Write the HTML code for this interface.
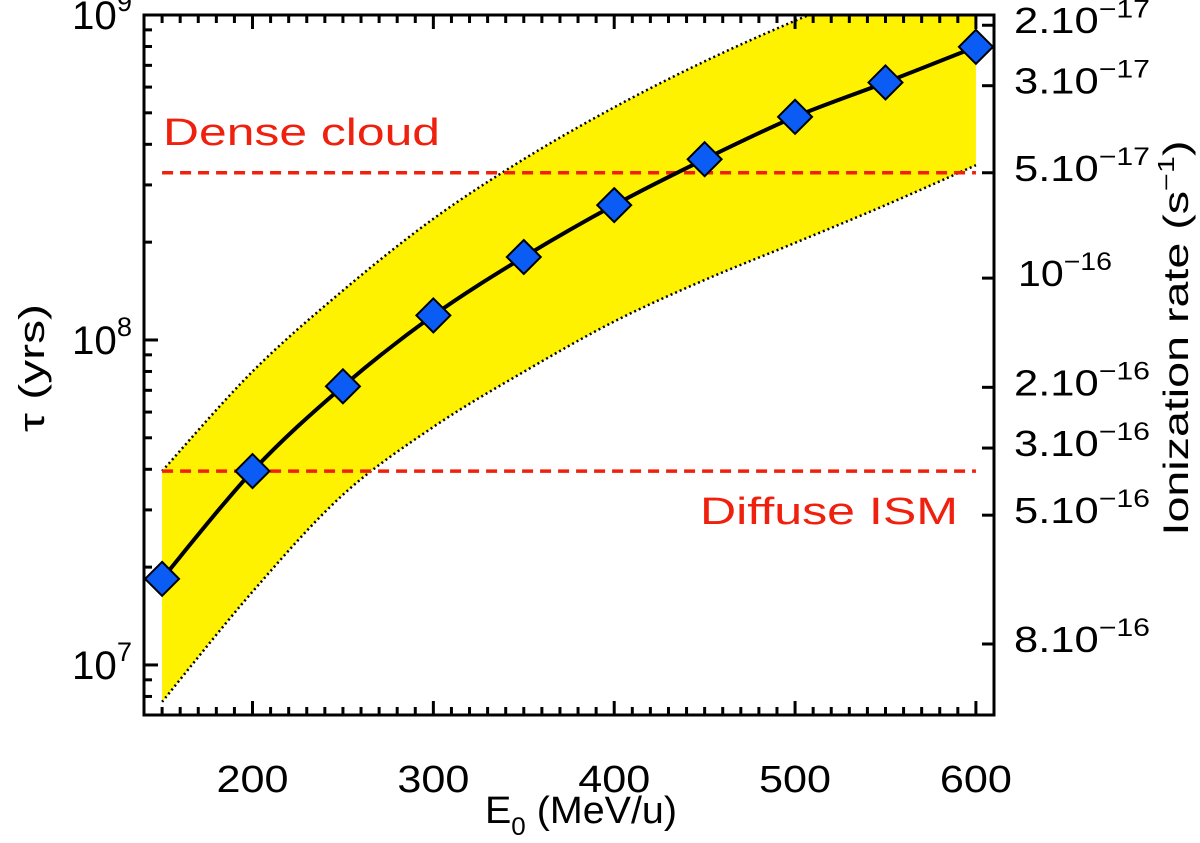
<!DOCTYPE html>
<html><head><meta charset="utf-8"><style>
body{margin:0;background:#fff;}
svg{display:block;font-family:"Liberation Sans","DejaVu Sans",sans-serif;}
</style></head><body>
<svg id="chart" width="1200" height="843" viewBox="0 0 1200 843">
<defs><clipPath id="clip"><rect x="144" y="15" width="850" height="700"/></clipPath></defs>
<g id="band" clip-path="url(#clip)"></g>
<g id="refs"></g>
<g id="series"></g>
<g id="axes"></g>
<text x="163" y="145" font-size="38" fill="#f0200e" textLength="277" lengthAdjust="spacingAndGlyphs">Dense  cloud</text>
<text x="700" y="524" font-size="38" fill="#f0200e" textLength="258" lengthAdjust="spacingAndGlyphs">Diffuse  ISM</text>
<text x="485" y="823" font-size="38" textLength="192" lengthAdjust="spacingAndGlyphs">E<tspan font-size="25" dy="12">0</tspan><tspan dy="-12"> (MeV/u)</tspan></text>
<text transform="translate(44,368) rotate(-90)" font-size="36" text-anchor="middle" textLength="128" lengthAdjust="spacingAndGlyphs">τ (yrs)</text>
<text transform="translate(1188,338) rotate(-90)" font-size="35" text-anchor="middle" textLength="395" lengthAdjust="spacingAndGlyphs">Ionization rate (s<tspan font-size="23" dy="-14">−1</tspan><tspan dy="14">)</tspan></text>
</svg>
<script>
const energies=[150,200,250,300,350,400,450,500,550,600];
const tau=[1.84e7,3.95e7,7.2e7,1.19e8,1.8e8,2.6e8,3.6e8,4.86e8,6.2e8,7.98e8];
const tauUpper=[3.95e7,8.0e7,1.42e8,2.36e8,3.6e8,5.2e8,7.2e8,9.6e8,1.24e9,1.6e9];
const tauLower=[7.7e6,1.68e7,3.34e7,5.4e7,7.98e7,1.14e8,1.53e8,1.99e8,2.6e8,3.45e8];
const denseCloud=3.27e8;
const diffuseISM=3.95e7;
const xTicks=[200,300,400,500,600];
const yDecades=[7,8,9];
const rateLabels=["2","3","5","10","2","3","5","8"];
const rateExps=["-17","-17","-17","-16","-16","-16","-16","-16"];
const rateTauPos=[9.3e8,6.06e8,3.27e8,1.55e8,7.15e7,4.65e7,2.89e7,1.16e7];

const NS="http://www.w3.org/2000/svg";
const X0=144,X1=994,Y0=15,Y1=715;
const xMin=140,xMax=610;
const yTop=9.0,yBot=6.846;
const x=v=>X0+(v-xMin)/(xMax-xMin)*(X1-X0);
const y=v=>Y0+(yTop-Math.log10(v))/(yTop-yBot)*(Y1-Y0);
function mk(tag,attrs,parent){const e=document.createElementNS(NS,tag);for(const k in attrs)e.setAttribute(k,attrs[k]);parent.appendChild(e);return e;}
function smooth(pts){
  let d='M'+pts[0][0]+','+pts[0][1];
  for(let i=0;i<pts.length-1;i++){
    const p0=pts[Math.max(i-1,0)],p1=pts[i],p2=pts[i+1],p3=pts[Math.min(i+2,pts.length-1)];
    const c1=[p1[0]+(p2[0]-p0[0])/6,p1[1]+(p2[1]-p0[1])/6];
    const c2=[p2[0]-(p3[0]-p1[0])/6,p2[1]-(p3[1]-p1[1])/6];
    d+=' C'+c1.join(',')+' '+c2.join(',')+' '+p2.join(',');
  }
  return d;
}
const band=document.getElementById('band'),refs=document.getElementById('refs'),ser=document.getElementById('series'),ax=document.getElementById('axes');

const upPts=energies.map((e,i)=>[x(e),y(tauUpper[i])]);
const loPts=energies.map((e,i)=>[x(e),y(tauLower[i])]);
const loRev=smooth(loPts.slice().reverse()).replace('M','L');
const poly=mk('path',{d:smooth(upPts)+' '+loRev+' Z',fill:'#fff200'},band);


[upPts,loPts].forEach((pts,k)=>{
  const p=mk('path',{d:smooth(pts),fill:'none',stroke:'#000','stroke-width':2.5,'stroke-dasharray':'2,3'},band);
  
  
});
[[denseCloud,'dense-cloud-line'],[diffuseISM,'diffuse-ism-line']].forEach(([v,n])=>{
  const l=mk('line',{x1:x(150),x2:x(600),y1:y(v),y2:y(v),stroke:'#f0200e','stroke-width':3.5,'stroke-dasharray':'11,7'},refs);
  
  
});
const ln=mk('path',{d:smooth(energies.map((e,i)=>[x(e),y(tau[i])])),fill:'none',stroke:'#000','stroke-width':4},ser);


energies.forEach((e,i)=>{
  const cx=x(e),cy=y(tau[i]),r=17;
  const d=mk('polygon',{points:`${cx},${cy-r} ${cx+r},${cy} ${cx},${cy+r} ${cx-r},${cy}`,fill:'#0a5cf5',stroke:'#000','stroke-width':2},ser);
  
  
});
const fr=mk('rect',{x:X0,y:Y0,width:X1-X0,height:Y1-Y0,fill:'none',stroke:'#000','stroke-width':3},ax);


for(let v=150;v<=xMax;v+=10){
  const L=(v%100===0)?14:8;
  mk('line',{x1:x(v),x2:x(v),y1:Y1,y2:Y1-L,stroke:'#000','stroke-width':3},ax);
  mk('line',{x1:x(v),x2:x(v),y1:Y0,y2:Y0+L,stroke:'#000','stroke-width':3},ax);
}
xTicks.forEach(v=>{
  const t=mk('text',{x:x(v),y:792,'font-size':38,'text-anchor':'middle',textLength:72,lengthAdjust:'spacingAndGlyphs'},ax);
  t.textContent=v;
  
  
});
for(let d=6;d<=9;d++){for(let m=1;m<=9;m++){
  const v=m*Math.pow(10,d);const lv=Math.log10(v);
  if(lv<yBot||lv>yTop+0.001)continue;
  const L=m===1?14:8;
  mk('line',{x1:X0,x2:X0+L,y1:y(v),y2:y(v),stroke:'#000','stroke-width':3},ax);
}}
yDecades.forEach(d=>{
  const t=mk('text',{x:72,y:y(Math.pow(10,d))+14,'font-size':40,textLength:60,lengthAdjust:'spacingAndGlyphs'},ax);
  t.innerHTML='10<tspan font-size="27" dy="-18">'+d+'</tspan>';
  
  
});
rateLabels.forEach((lab,i)=>{
  const yy=y(rateTauPos[i]);
  mk('line',{x1:X1,x2:X1-12,y1:yy,y2:yy,stroke:'#000','stroke-width':3},ax);
  const isTen=lab==='10';
  const t=mk('text',{x:isTen?1018:1014,y:yy+8,'font-size':36,textLength:isTen?94:136,lengthAdjust:'spacingAndGlyphs'},ax);
  const ex=rateExps[i].replace('-','−');
  t.innerHTML=(isTen?'10':lab+'.10')+'<tspan font-size="25" dy="-16">'+ex+'</tspan>';
  
  
});
</script>
</body></html>
